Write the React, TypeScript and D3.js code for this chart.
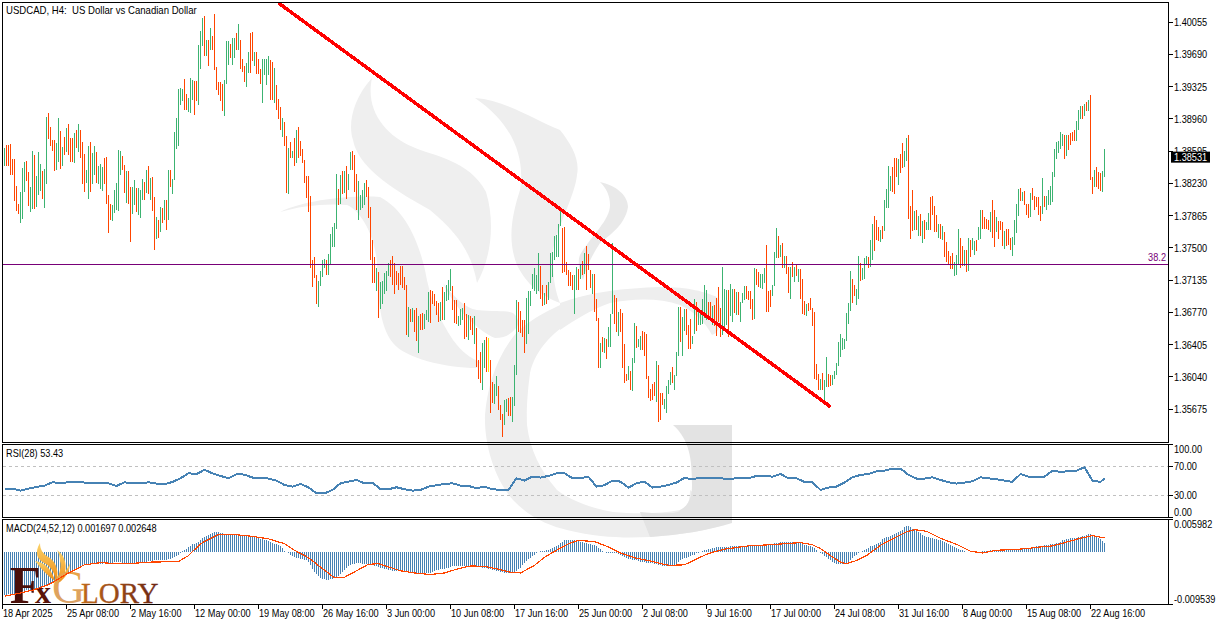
import React from "react";
import { scaleLinear, line as d3_line } from "d3";

// prices are kept as pips above 1.35000
const BASE_PRICE = 1.35;
const barHighs = [
  363,366,366,367,350,350,320,300,313,340,
  347,348,336,319,360,355,331,358,345,337,
  339,398,403,387,372,372,369,397,382,364,
  375,386,390,374,374,380,383,390,383,370,
  356,338,365,370,357,365,358,343,345,341,
  352,353,310,300,298,315,323,361,360,354,
  344,337,337,319,319,327,318,318,315,328,
  324,338,343,329,330,307,285,281,296,295,
  304,304,338,338,328,381,397,430,431,430,
  441,424,420,442,440,439,439,480,495,510,
  512,485,485,499,490,515,455,438,438,435,
  440,484,484,481,487,487,493,503,485,464,
  456,459,472,493,494,472,472,464,452,464,
  464,464,467,463,460,454,434,418,409,397,
  392,377,363,370,360,374,383,387,
  371,362,349,331,331,309,236,240,219,212,
  224,236,237,236,243,266,273,278,333,317,
  332,337,337,343,333,358,360,355,333,326,
  310,315,323,327,319,296,259,240,227,223,
  211,212,221,224,233,236,241,233,224,221,
  229,229,217,208,183,181,182,180,182,173,
  175,176,175,180,200,202,201,198,190,187,
  189,206,200,208,214,226,207,191,191,173,
  181,182,187,175,174,173,171,173,159,123,
  132,142,146,149,148,123,98,96,105,94,
  72,62,78,79,80,81,81,117,191,189,
  178,168,168,193,201,201,220,227,219,244,
  229,208,199,208,211,244,245,263,264,277,
  295,272,274,234,225,223,219,219,228,226,
  232,235,244,252,243,225,220,220,192,170,
  142,149,148,147,160,175,255,197,193,177,
  181,176,141,107,116,110,125,165,161,147,
  150,156,155,152,105,90,96,98,122,117,
  86,86,79,94,100,109,115,106,132,183,
  183,172,181,181,163,169,150,192,189,180,
  176,192,208,202,189,189,184,185,193,206,
  182,228,203,202,202,209,203,203,200,200,
  189,199,207,207,201,201,192,227,226,223,
  220,220,227,253,201,202,208,245,272,263,
  253,255,241,241,228,228,234,228,232,226,
  226,215,190,186,187,193,182,177,118,107,
  101,108,100,126,107,106,106,111,120,143,
  152,148,147,176,187,224,215,208,203,241,
  233,227,238,241,240,259,277,286,281,274,
  270,275,304,317,343,331,341,352,352,350,
  356,369,360,374,378,297,315,292,293,286,
  288,280,281,279,289,307,309,297,287,277,
  277,275,268,257,246,241,244,234,242,271,
  261,252,247,247,261,259,261,258,259,274,
  293,293,285,283,281,290,304,293,285,280,
  280,279,269,271,271,261,262,281,299,316,
  318,313,314,299,299,312,318,309,307,307,
  297,329,309,309,315,320,336,362,370,371,
  381,379,378,378,378,380,381,383,393,406,
  410,410,413,415,417,423,330,338,341,336,
  335,337,362,
];
const barLows = [
  343,343,343,332,332,303,292,288,278,282,
  313,326,297,291,294,294,296,310,314,305,
  295,322,373,365,360,337,338,347,339,342,
  355,358,355,347,347,346,363,358,352,322,
  313,323,305,313,322,332,323,322,317,314,
  322,300,267,281,280,289,293,292,332,338,
  312,301,300,257,288,298,291,287,284,304,
  304,312,311,304,292,247,260,261,268,278,
  281,270,281,319,311,327,362,365,412,416,
  406,406,404,403,417,400,416,412,452,478,
  467,467,456,474,474,451,429,423,416,405,
  399,435,457,465,457,465,474,474,452,449,
  438,432,448,448,461,456,447,447,435,414,
  445,434,445,417,417,414,406,396,383,375,
  365,312,311,352,352,343,346,352,
  354,346,323,306,291,227,206,216,186,183,
  207,217,227,219,219,230,251,251,271,298,
  300,311,312,305,315,338,338,313,293,281,
  293,295,298,307,284,236,210,210,201,171,
  181,186,198,201,218,217,208,198,208,202,
  208,204,202,151,149,166,166,155,144,131,
  157,157,158,168,166,165,186,184,174,166,
  167,168,168,190,191,201,180,165,164,161,
  163,168,147,149,146,157,151,141,115,101,
  97,89,114,109,109,63,74,73,82,66,
  55,36,49,64,60,60,53,71,106,155,
  153,149,131,141,152,184,203,201,198,201,
  192,184,185,186,191,210,217,236,240,240,
  275,221,223,219,207,207,202,175,202,202,
  215,219,220,202,225,204,198,177,167,114,
  114,132,131,124,138,138,175,164,155,150,
  155,114,97,99,100,89,88,120,137,138,
  134,134,127,101,80,77,78,82,75,53,
  55,72,68,63,85,95,97,89,105,128,
  143,128,156,151,135,135,141,152,156,163,
  163,164,170,168,172,172,163,161,150,166,
  149,151,158,163,149,173,166,176,174,174,
  166,188,191,192,191,181,168,169,208,206,
  204,203,210,177,177,183,195,207,238,238,
  240,227,227,220,199,192,217,211,218,211,
  192,175,174,173,178,180,161,101,100,89,
  89,89,78,92,92,94,95,102,106,116,
  126,134,135,144,164,178,187,195,185,192,
  212,213,215,232,227,228,236,246,259,258,
  256,260,269,295,295,314,313,311,330,321,
  335,340,341,348,283,260,269,270,270,263,
  263,255,260,270,270,270,287,268,268,261,
  260,259,240,234,232,226,226,218,219,232,
  227,229,229,223,224,240,247,242,246,259,
  260,271,271,271,270,268,261,251,268,260,
  270,252,249,252,253,247,241,253,267,286,
  303,303,298,287,284,285,304,293,296,287,
  280,288,296,293,298,298,302,330,350,357,
  362,365,350,354,361,366,371,371,371,383,
  396,396,399,405,405,327,311,319,319,317,
  314,313,330,
];
// G = up bar, O = down bar, Y = the one doji bar
const barSides = (
  "GOOOOOOOGGGOOGGOGGGOGGOOOOGGOGOGOOOGOGOOOGGOGGOGGG" +
  "OOOOGGGGGOOGOOGGOGGGOGOGOOGOGOGOGOGGGGGGOOGGGOOGGG" +
  "OGOGOOOOOOGGGOGGOGOOOGGOOGOOOGGGGOOGOOOGOOGOGOGO" +
  "OOOOOOOOOGGGGOGGGGGOGOGOGGOOOGGGGOOOOOGOGGGGGOOOOO" +
  "OOOOGOGOOGOOGGGOOOOOGOGGGGOOOGGGOOGOOGOOOGGOYOOGGO" +
  "OOGGOOGGGOOOOGGGGGGGOOGOGGGGGGGOOOOOOGGO" +
  "GOGOOOGOOOGOGOGGGOOGOOOOGOGGOGGOOOOOOOGOOOGGGGOGGG" +
  "OGGOOOGGOGGGGGOOGOOOOGGGOGGOGOGGGOOOOGOOGGGOOOGGGO" +
  "GOGOOGOGOGOOOGOOOOOOGOGGOOGGGGGGGGGGOOGG" +
  "OGGGOGGOOOGOGGGGOOOGOOGGOOOGOGOGOGGOOOOGOGOOOOOGGG" +
  "OOGOGOGGOGGOOOOGOOGOOOGOOOGGGGOGOOOGOOOOOGOGGGGGGG" +
  "GGOGOOOOGGGOGOGOOGOOOGG"
);

const priceTicks = [1.40055, 1.3969, 1.39325, 1.3896, 1.38595, 1.3823, 1.37865, 1.375, 1.37135, 1.3677, 1.36405, 1.3604, 1.35675];
const lastPrice = 1.38531;
const fiboPrice = 1.3732;
const trendBars = [137, 413];
const trendPips = [527, 70];

// RSI read every fourth bar, plus the last one
const rsiValues = [
  39.2,39.2,36.4,39.2,41.5,43.3,47.9,47,47.9,48.4,47.5,46.5,47,46.5,42.9,47.9,46.5,46.5,47.9,46.1,45.2,48.4,53.4,60.3,59.4,65,60.3,56.7,53.4,59,58.5,54.4,54.4,53,50.2,44.2,41.9,45.6,41,32.7,32.7,37.3,46.5,48.8,51.1,46.5,47.5,38.3,38.3,41,
  38.3,36.4,37.3,41.9,43.8,45.6,46.5,43.3,42.9,39.6,41.9,38.3,37.3,37.3,53.4,50.2,55.7,54.4,56.7,60.3,60.3,53.4,53.9,55.3,41.9,43.8,50.2,48.8,40.6,46.5,48.8,40.6,41.9,44.2,47.5,53.9,52.1,54.4,54.4,53.4,53,53,53.4,53.4,56.7,56.7,55.7,59.4,53.4,53.4,
  48.4,47.9,37.3,40.6,41.9,47.5,54.8,58,59.4,63.1,64,66.8,66.8,58,53,53,54.8,51.1,47.9,46.1,47.5,49.3,54.8,53.4,52.1,50.2,48.4,59.4,55.7,54.8,55.7,64,62.2,63.1,64,68.6,50.2,48.4,53.43,
];
const rsiLevels = [70, 30];
const rsiLabels = ["100.00", "70.00", "30.00", "0.00"];

// MACD histogram, one value per bar, in units of 0.0001
const macdHist = [
  -78,-78,-77,-77,-76,-76,-75,-74,-73,-72,-71,-70,-70,-69,-68,-67,-66,-66,-65,-64,
  -63,-61,-59,-57,-55,-52,-49,-47,-45,-43,-41,-39,-37,-35,-33,-31,-29,-27,-25,-24,
  -24,-23,-23,-22,-22,-22,-21,-21,-21,-21,-20,-20,-20,-19,-19,-18,-18,-18,-18,-19,
  -19,-20,-20,-21,-21,-21,-20,-20,-19,-19,-18,-17,-16,-16,-16,-15,-15,-15,-14,-14,
  -14,-14,-13,-12,-10,-8,-6,-4,-1,3,5,7,10,12,15,16,18,20,22,26,
  28,30,32,34,36,38,38,37,36,35,34,33,33,33,33,33,33,33,32,32,
  31,31,30,30,29,28,27,26,25,24,23,22,21,20,18,16,15,14,12,8,
  3,1,-1,-4,-7,-9,-10,-11,-12,-13,-14,-15,-18,-24,-30,-36,-40,-43,-47,-49,
  -50,-51,-51,-50,-49,-48,-46,-43,-40,-36,-32,-29,-26,-24,-22,-21,-20,-20,-20,-21,
  -21,-21,-22,-23,-24,-25,-26,-27,-28,-29,-30,-31,-32,-33,-34,-34,-34,-34,-34,-34,
  -35,-35,-36,-36,-37,-37,-38,-38,-39,-39,-39,-39,-39,-38,-36,-34,-33,-32,-31,-30,
  -30,-29,-28,-27,-26,-26,-26,-25,-25,-25,-25,-25,-25,-26,-26,-26,-26,-27,-27,-28,
  -28,-29,-30,-31,-32,-33,-34,-35,-36,-37,-38,-38,-39,-39,-39,-37,-34,-31,-28,-24,
  -20,-16,-13,-10,-7,-5,-2,1,2,3,3,4,5,7,9,10,12,14,17,20,
  23,23,23,23,23,22,22,21,20,19,18,17,16,15,14,13,11,9,7,3,
  1,-1,-2,-2,-2,-2,-2,-3,-5,-7,-9,-11,-12,-13,-14,-15,-15,-16,-17,-17,
  -18,-19,-19,-20,-20,-21,-22,-23,-24,-25,-25,-25,-25,-25,-25,-24,-21,-18,-15,-13,
  -11,-10,-8,-7,-5,-4,-2,-1,1,2,4,5,6,7,8,9,10,10,10,10,
  10,10,10,11,11,11,11,11,11,11,12,12,12,12,12,12,12,12,13,13,
  14,14,15,15,16,17,17,18,19,20,20,20,20,19,19,18,18,17,17,16,
  14,13,12,11,10,8,4,1,-1,-3,-6,-9,-12,-15,-18,-19,-21,-22,-22,-21,
  -20,-19,-18,-15,-11,-7,-4,-2,1,3,5,7,9,11,12,14,16,18,20,24,
  26,28,29,31,33,34,36,38,40,42,46,48,48,46,44,42,39,37,35,33,
  31,29,28,27,26,25,24,23,22,21,20,18,16,14,12,10,8,7,5,4,
  2,1,0,0,0,0,1,1,1,2,2,3,3,4,4,4,4,5,5,5,
  5,5,5,4,4,4,4,4,5,6,7,8,9,9,10,10,11,12,12,12,
  13,13,14,15,15,16,17,18,20,22,23,24,25,26,27,27,27,28,29,30,
  31,33,34,34,32,30,28,26,24,21,17,
];
const signalBars = [
  0,8,15,23,32,40,48,57,65,73,87,92,98,107,115,123,132,140,145,152,159,165,170,175,182,187,193,198,
  205,213,220,227,233,240,247,253,258,265,270,277,282,287,295,302,308,315,323,332,340,345,352,360,372,382,398,
  404,408,413,418,421,426,431,438,444,451,455,461,468,476,483,489,496,504,511,518,524,531,538,544,550,
];
const signalValues = [
  -81,-75,-69,-58,-38,-23,-19,-21,-20,-18,-17,-6,16,33,33,30,25,16,4,-10,-30,-47,-46,-36,-22,-21,-28,-34,
  -38,-41,-38,-30,-25,-26,-31,-37,-38,-24,-9,6,16,22,20,10,-1,-10,-16,-24,-23,-14,-2,6,12,14,18,
  14,7,-6,-18,-21,-15,-6,13,25,38,42,39,26,15,2,-1,4,5,7,10,12,19,26,31,26.5,
];

const xTickLabels = [
  "18 Apr 2025","25 Apr 08:00","2 May 16:00","12 May 00:00","19 May 08:00","26 May 16:00",
  "3 Jun 00:00","10 Jun 08:00","17 Jun 16:00","25 Jun 00:00","2 Jul 08:00","9 Jul 16:00",
  "17 Jul 00:00","24 Jul 08:00","31 Jul 16:00","8 Aug 00:00","15 Aug 08:00","22 Aug 16:00",
];

const FONT = "'Liberation Sans', sans-serif";
const SERIF = "'Liberation Serif', serif";
const GREEN = "#3cb371";
const ORANGE = "#ff4500";
const BLUE = "#4682b4";
const PURPLE = "#780078";

const right = 1168.5;
const left = 2.5;

const x = scaleLinear().domain([0, 550]).range([4.5, 1104.5]);
const yPrice = scaleLinear().domain([1.35675, 1.40055]).range([409, 22]);
const yRsi = scaleLinear().domain([0, 100]).range([517, 444.5]);
const yMacd = scaleLinear().domain([-0.009539, 0.005982]).range([604, 520]);

const pipY = (p: number) => yPrice(BASE_PRICE + p / 10000);

const rsiPoints = rsiValues.map((v, i) => [Math.min(i * 4, 550), v] as [number, number]);
const rsiPath = d3_line<[number, number]>()
  .x((d) => x(d[0]))
  .y((d) => yRsi(d[1]))(rsiPoints);
const signalPath = d3_line<number>()
  .x((d) => x(d))
  .y((_, i) => yMacd(signalValues[i] / 10000))(signalBars);

const sideColor = (s: string) => (s === "G" ? GREEN : s === "Y" ? "#ffe600" : ORANGE);

// terminal font is narrower than anything installed, so squeeze it a little
const Label = ({ x, y, sx = 0.875, fill = "#000", anchor = "start", children }: any) => (
  <text
    transform={`translate(${x},${y}) scale(${sx},1)`}
    fill={fill}
    textAnchor={anchor}
    style={{ whiteSpace: "pre" }}
  >
    {children}
  </text>
);

const Watermark = () => (
  <g>
    <path fill="#efefef" d="M372 78 C352 100 348 125 353 140 C358 165 385 185 430 210 C460 235 472 255 477 283 C490 260 496 225 486 192 C470 160 430 155 413 147 C385 135 365 110 372 78Z" />
    <path fill="#efefef" d="M280 212 C305 200 350 195 380 197 C405 210 418 240 425 270 C430 300 440 320 453 340 C462 352 470 358 480 362 L477 368 C445 368 405 358 393 343 C378 325 378 290 377 263 C375 235 360 210 347 205 C325 203 300 206 280 212Z" />
    <path fill="#eeeeee" d="M475 98 C505 100 535 120 560 130 C572 145 580 160 577 175 C575 195 558 225 553 250 C552 275 555 290 560 303 C540 295 527 285 517 265 C507 240 512 215 520 190 C525 160 515 125 475 98Z" />
    <path fill="#e9e9e9" d="M600 182 C615 185 628 195 628 207 C625 225 610 235 600 243 C592 255 586 268 583 280 C578 268 578 260 580 255 C592 235 610 220 610 205 C610 195 606 188 600 182Z" />
    <path fill="#eeeeee" d="M443 283 C455 298 465 308 477 310 C495 312 505 310 513 313 C519 318 519 323 517 327 C510 335 505 338 495 338 C480 332 455 310 443 283Z" />
    <path fill="#eeeeee" d="M560 303 C590 292 625 288 660 287 C690 287 705 292 717 297 C722 310 722 320 720 327 C718 331 715 334 712 335 C705 322 695 312 680 305 C660 298 635 298 610 303 C590 310 575 320 560 330Z" />
    <path fill="#eeeeee" d="M580 297 C550 308 525 322 513 337 C495 360 487 390 485 415 C484 445 495 480 513 500 C530 518 550 526 567 530 C600 538 625 538 650 537 C680 535 710 530 730 523 L690 490 C690 505 685 508 680 510 C660 514 635 514 613 512 C590 508 570 500 557 490 C540 470 530 450 527 425 C526 400 530 375 530 373 C535 350 555 328 580 317Z" />
    <path fill="#e3e3e3" d="M673 425 L732 425 L732 523 C710 530 680 535 650 537 L640 512 C660 514 680 514 680 510 C690 505 692 495 692 485 C692 460 690 440 673 425Z" />
  </g>
);

const Logo = () => (
  <g>
    <defs>
      <linearGradient id="flame" x1="0" y1="0" x2="0" y2="1">
        <stop offset="0%" stopColor="#fbd36a" />
        <stop offset="100%" stopColor="#ee8a12" />
      </linearGradient>
      <linearGradient id="gee" x1="0" y1="0" x2="0" y2="1">
        <stop offset="0%" stopColor="#eda63f" />
        <stop offset="100%" stopColor="#d5a070" />
      </linearGradient>
      <linearGradient id="lory" x1="0" y1="0" x2="1" y2="0">
        <stop offset="0%" stopColor="#c06a1c" />
        <stop offset="100%" stopColor="#6b2410" />
      </linearGradient>
    </defs>
    <path fill="url(#flame)" d="M40 543 C34 553 37 560 46 564 C54 569 56 578 55 583 C60 574 57 563 50 558 C43 554 40 550 40 543Z" />
    <path fill="url(#flame)" d="M57 550 C66 556 68 568 63 577 C61 581 59 583 56 585 C58 576 62 568 60 561 C60 557 59 553 57 550Z" />
    <path fill="url(#flame)" d="M35 561 C45 562 52 570 55 581 C48 576 41 569 35 561Z" />
    <path fill="url(#flame)" d="M70 563 C70 571 66 577 60 582 C62 575 68 569 70 563Z" />
    <text x="9" y="603" fontFamily={SERIF} fontSize="53" fontWeight="bold" fill="#4a0f0a" transform="translate(1,0) scale(0.96,1)">F</text>
    <text x="35" y="603" fontFamily={SERIF} fontSize="32" fontWeight="bold" fill="#5a140a">x</text>
    <text x="52" y="603" fontFamily={SERIF} fontSize="46" fill="url(#gee)">G</text>
    <text x="81" y="603" fontFamily={SERIF} fontSize="29" fill="url(#lory)" stroke="url(#lory)" strokeWidth={0.3}>LORY</text>
  </g>
);

export default function App() {
  return (
    <svg
      width={1221}
      height={625}
      viewBox="0 0 1221 625"
      style={{ position: "fixed", left: 0, top: 0, background: "#fff" }}
      fontFamily={FONT}
      fontSize={10.5}
    >
      <Watermark />

      {/* price bars */}
      <g shapeRendering="crispEdges">
        {barHighs.map((h, i) => (
          <line key={i} x1={x(i)} x2={x(i)} y1={pipY(h)} y2={pipY(barLows[i])} stroke={sideColor(barSides[i])} />
        ))}
      </g>

      {/* 38.2 level */}
      <line x1={left} x2={right} y1={Math.round(yPrice(fiboPrice)) + 0.5} y2={Math.round(yPrice(fiboPrice)) + 0.5} stroke={PURPLE} shapeRendering="crispEdges" />
      <Label x={1166} y={260.5} anchor="end" fill={PURPLE}>38.2</Label>

      {/* trend line */}
      <line
        x1={x(trendBars[0])}
        y1={pipY(trendPips[0])}
        x2={x(trendBars[1])}
        y2={pipY(trendPips[1])}
        stroke="#ff0000"
        strokeWidth={3.5}
        shapeRendering="crispEdges"
      />

      {/* RSI */}
      {rsiLevels.map((l) => (
        <line key={l} x1={left} x2={right} y1={Math.round(yRsi(l)) + 0.5} y2={Math.round(yRsi(l)) + 0.5} stroke="#c0c0c0" strokeDasharray="3,3" shapeRendering="crispEdges" />
      ))}
      <path d={rsiPath ?? ""} fill="none" stroke={BLUE} strokeWidth={2} shapeRendering="crispEdges" />

      {/* MACD */}
      <g shapeRendering="crispEdges">
        {macdHist.map((v, i) => (
          <line key={i} x1={x(i)} x2={x(i)} y1={yMacd(0)} y2={yMacd(v / 10000)} stroke={BLUE} />
        ))}
      </g>
      <Logo />
      <path d={signalPath ?? ""} fill="none" stroke={ORANGE} strokeWidth={1.2} shapeRendering="crispEdges" />

      {/* frames */}
      <g stroke="#000" shapeRendering="crispEdges" fill="none">
        <rect x={left} y={2.5} width={right - left} height={440} />
        <rect x={left} y={444.5} width={right - left} height={73} />
        <rect x={left} y={519.5} width={right - left} height={85} />
        {priceTicks.map((t) => (
          <line key={t} x1={right} x2={right + 4} y1={yPrice(t)} y2={yPrice(t)} />
        ))}
        {[100, 70, 30, 0].map((t) => (
          <line key={t} x1={right} x2={right + 4} y1={yRsi(t)} y2={yRsi(t)} />
        ))}
        <line x1={right} x2={right + 4} y1={519.5} y2={519.5} />
        <line x1={right} x2={right + 4} y1={604.5} y2={604.5} />
        {xTickLabels.map((_, i) => (
          <line key={i} x1={x(i * 32) - 2} x2={x(i * 32) - 2} y1={604.5} y2={608.5} />
        ))}
      </g>

      {/* axis labels */}
      {priceTicks.map((t) => (
        <Label key={t} x={1174} y={yPrice(t) + 4}>{t.toFixed(5)}</Label>
      ))}
      <rect x={1171} y={yPrice(lastPrice) - 5} width={39} height={11} fill="#000" />
      <Label x={1174} y={yPrice(lastPrice) + 4.5} fill="#fff">{lastPrice.toFixed(5)}</Label>

      <Label x={1174} y={453}>{rsiLabels[0]}</Label>
      <Label x={1174} y={yRsi(70) + 4}>{rsiLabels[1]}</Label>
      <Label x={1174} y={yRsi(30) + 4}>{rsiLabels[2]}</Label>
      <Label x={1174} y={515.5}>{rsiLabels[3]}</Label>
      <Label x={1174} y={528}>0.005982</Label>
      <Label x={1174} y={603}>-0.009539</Label>

      {xTickLabels.map((l, i) => (
        <Label key={l} x={x(i * 32) - 1.5} y={617}>{l}</Label>
      ))}

      <Label x={6} y={14} sx={0.914}>USDCAD, H4:  US Dollar vs Canadian Dollar</Label>
      <Label x={6} y={457}>RSI(28) 53.43</Label>
      <Label x={6} y={532}>MACD(24,52,12) 0.001697 0.002648</Label>
    </svg>
  );
}
